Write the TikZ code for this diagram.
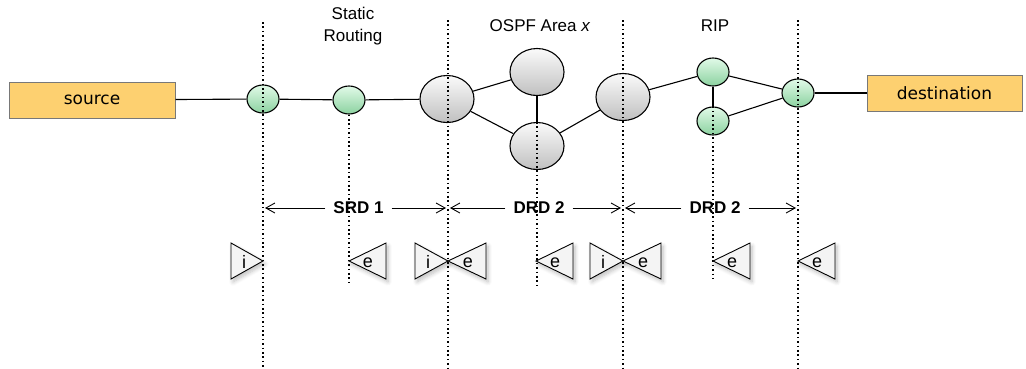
\documentclass[tikz,border=0pt]{standalone}
\usepackage{fontspec}
\setmainfont{Liberation Sans}
\newfontfamily\verd{DejaVu Sans}
\usetikzlibrary{arrows.meta,shapes.geometric,shadows.blur}
\definecolor{boxfill}{RGB}{253,208,112}
\definecolor{boxline}{RGB}{120,120,120}
\definecolor{gtop}{RGB}{225,250,232}
\definecolor{gmid}{RGB}{135,238,158}
\definecolor{gbot}{RGB}{140,210,160}
\definecolor{ytop}{RGB}{250,250,250}
\definecolor{ybot}{RGB}{192,192,192}
\definecolor{trifill}{RGB}{244,244,244}
\begin{document}
\begin{tikzpicture}[x=1pt,y=-1pt,
  box/.style={draw=boxline, fill=boxfill, line width=1pt, minimum height=36pt, inner sep=0pt,
    font=\verd\fontsize{17}{20}\selectfont},
  gnode/.style={ellipse, draw=black, line width=1.1pt, minimum width=32pt, minimum height=28pt, inner sep=0pt,
    top color=gtop, middle color=gmid, bottom color=gbot},
  onode/.style={ellipse, draw=black, line width=1.1pt, minimum width=54pt, minimum height=47pt, inner sep=0pt,
    top color=ytop, bottom color=ybot},
  link/.style={line width=1.1pt},
  vline/.style={line width=1.3pt, dash pattern=on 1.6pt off 2.8pt},
  arr/.style={line width=0.9pt, -{Straight Barb[length=9pt,width=10pt,line width=0.9pt]}},
  dom/.style={font=\bfseries\fontsize{17}{20}\selectfont, inner xsep=8pt, inner ysep=2pt},
  title/.style={font=\fontsize{17}{22}\selectfont, align=center, inner sep=0pt},
  tri/.style={draw=black, fill=trifill, line width=0.9pt, line join=miter,
    blur shadow={shadow xshift=2pt, shadow yshift=-3pt, shadow blur steps=6, shadow blur radius=4pt, shadow opacity=25}},
  tl/.style={font=\fontsize{18}{20}\selectfont, inner sep=0pt}
]
\useasboundingbox (0,0) rectangle (1026,368);

% titles
\node[title] (t1) at (353,26) {Static\\Routing};
\node[title] (t2) at (540,26) {OSPF Area \textit{x}};
\node[title] (t3) at (715,26) {RIP};

% end boxes
\node[box, minimum width=166pt] (src) at (92,100) {source};
\node[box, minimum width=155pt] (dst) at (944.5,93) {destination};

% routers
\node[gnode] (g1) at (263,99) {};
\node[gnode] (g2) at (349,100) {};
\node[onode] (o1) at (447,99) {};
\node[onode] (o2) at (537,72) {};
\node[onode] (o3) at (537,146) {};
\node[onode] (o4) at (623,97) {};
\node[gnode] (r1) at (713,72) {};
\node[gnode] (r2) at (713,121) {};
\node[gnode] (r3) at (798,93) {};

% links
\draw[link] (src) -- (g1);
\draw[link] (g1) -- (g2);
\draw[link] (g2) -- (o1);
\draw[link] (o1) -- (o2);
\draw[link] (o1) -- (o3);
\draw[link] (o2) -- (o3);
\draw[link] (o3) -- (o4);
\draw[link] (o4) -- (r1);
\draw[link] (r1) -- (r2);
\draw[link] (r1) -- (r3);
\draw[link] (r2) -- (r3);
\draw[link] (r3) -- (dst);

% domain border lines
\coordinate (a1) at (263,22);  \coordinate (b1) at (263,368);
\coordinate (a2) at (448,20);  \coordinate (b2) at (448,368);
\coordinate (a3) at (623,20);  \coordinate (b3) at (623,368);
\coordinate (a4) at (798,20);  \coordinate (b4) at (798,368);
\draw[vline] (a1) -- (b1);
\draw[vline] (a2) -- (b2);
\draw[vline] (a3) -- (b3);
\draw[vline] (a4) -- (b4);
\coordinate (c1) at (349,285);
\coordinate (c2) at (537,287);
\coordinate (c3) at (713,279);
\draw[vline] (g2.south) -- (c1);
\draw[vline] (o3.north) -- (c2);
\draw[vline] (r2.north) -- (c3);

% domain arrows
\node[dom] (d1) at (358.5,208) {SRD 1};
\node[dom] (d2) at (539,208) {DRD 2};
\node[dom] (d3) at (715,208) {DRD 2};
\coordinate (p1) at (265,208); \coordinate (p2) at (446,208);
\coordinate (p3) at (450,208); \coordinate (p4) at (621,208);
\coordinate (p5) at (625,208); \coordinate (p6) at (796,208);
\draw[arr] (d1.west) -- (p1);
\draw[arr] (d1.east) -- (p2);
\draw[arr] (d2.west) -- (p3);
\draw[arr] (d2.east) -- (p4);
\draw[arr] (d3.west) -- (p5);
\draw[arr] (d3.east) -- (p6);

% ingress / egress triangles
\path[tri] (263,261) -- (231,243) -- (231,279) -- cycle;
\path[tri] (349,261) -- (386,243) -- (386,279) -- cycle;
\path[tri] (448,261) -- (415,243) -- (415,279) -- cycle;
\path[tri] (448,261) -- (486,243) -- (486,279) -- cycle;
\path[tri] (536,261) -- (573,243) -- (573,279) -- cycle;
\path[tri] (623,261) -- (590,243) -- (590,279) -- cycle;
\path[tri] (623,261) -- (661,243) -- (661,279) -- cycle;
\path[tri] (713,261) -- (750,243) -- (750,279) -- cycle;
\path[tri] (798,261) -- (835,243) -- (835,279) -- cycle;
\node[tl] (i1) at (244,262) {i};
\node[tl] (e1) at (368,263) {e};
\node[tl] (i2) at (428,262) {i};
\node[tl] (e2) at (468,263) {e};
\node[tl] (e3) at (555,263) {e};
\node[tl] (i3) at (603,262) {i};
\node[tl] (e4) at (643,263) {e};
\node[tl] (e5) at (732,263) {e};
\node[tl] (e6) at (817,263) {e};
\end{tikzpicture}
\end{document}
